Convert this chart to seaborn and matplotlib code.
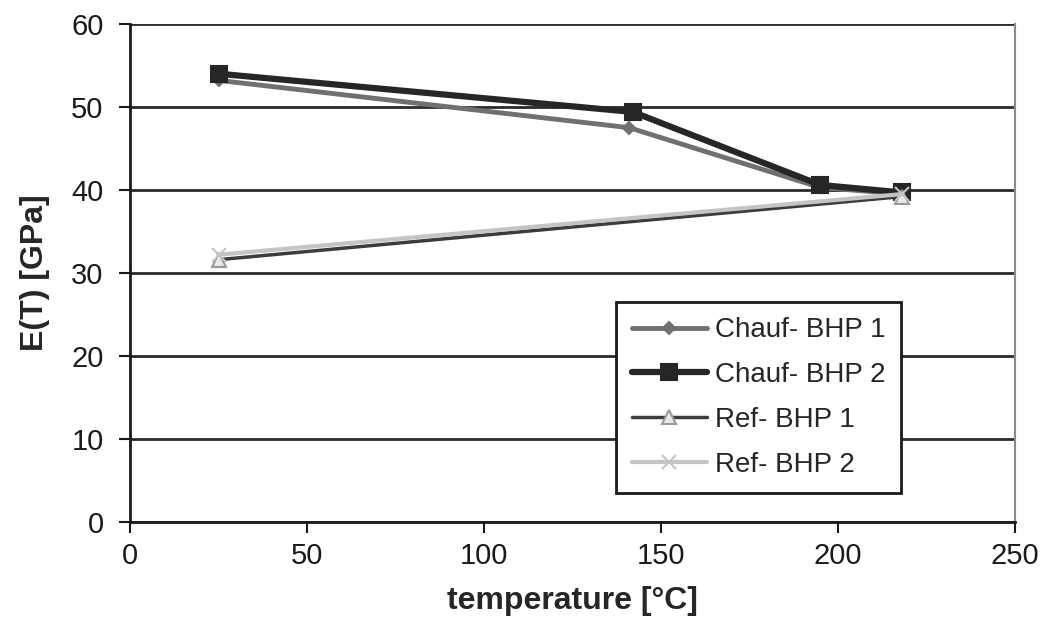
import pandas as pd
import matplotlib.pyplot as plt
import seaborn as sns

# data
chauf1_temp = [25, 141, 195, 218]
chauf1_E = [53.2, 47.5, 40.3, 39.5]
chauf2_temp = [25, 142, 195, 218]
chauf2_E = [54.0, 49.4, 40.6, 39.7]
ref1_temp = [25, 218]
ref1_E = [31.6, 39.2]
ref2_temp = [25, 218]
ref2_E = [32.2, 39.5]

series_names = ['Chauf- BHP 1', 'Chauf- BHP 2', 'Ref- BHP 1', 'Ref- BHP 2']

rows = []
for name, xs, ys in zip(series_names,
                        [chauf1_temp, chauf2_temp, ref1_temp, ref2_temp],
                        [chauf1_E, chauf2_E, ref1_E, ref2_E]):
    for x, y in zip(xs, ys):
        rows.append({'temperature': x, 'E': y, 'series': name})
df = pd.DataFrame(rows)

sns.set_style('white')
plt.rcParams['font.family'] = ['Liberation Sans', 'DejaVu Sans']

fig = plt.figure(figsize=(10.4, 6.29), dpi=100)
ax = fig.add_axes([0.125, 0.170, 0.851, 0.792])

# style per series: line colour, width, marker, marker size, face, edge
styles = {
    'Chauf- BHP 1': dict(color='#707070', lw=3.5, marker='D', ms=6, mfc='#707070', mec='#707070'),
    'Chauf- BHP 2': dict(color='#262626', lw=4.5, marker='s', ms=12, mfc='#262626', mec='#262626'),
    'Ref- BHP 1': dict(color='#3c3c3c', lw=2.5, marker='^', ms=10, mfc='#e8e8e8', mec='#9a9a9a'),
    'Ref- BHP 2': dict(color='#c4c4c4', lw=3.0, marker='x', ms=10, mfc='#c4c4c4', mec='#c4c4c4'),
}

for name in series_names:
    st = styles[name]
    sub = df[df['series'] == name]
    sns.lineplot(data=sub, x='temperature', y='E', ax=ax, label=name,
                 color=st['color'], linewidth=st['lw'], marker=st['marker'],
                 markersize=st['ms'], markerfacecolor=st['mfc'],
                 markeredgecolor=st['mec'], markeredgewidth=1.5,
                 zorder=3, legend=False)

ax.set_xlim(0, 250)
ax.set_ylim(0, 60)
ax.set_xticks(range(0, 251, 50))
ax.set_yticks(range(0, 61, 10))

# horizontal grid lines
ax.yaxis.grid(True, color='#2a2a2a', linewidth=2)
ax.xaxis.grid(False)
ax.set_axisbelow(True)

for side in ['left', 'bottom']:
    ax.spines[side].set_color('#1a1a1a')
    ax.spines[side].set_linewidth(2)
ax.spines['top'].set_visible(False)
ax.spines['right'].set_color('#8a8a8a')
ax.spines['right'].set_linewidth(1.5)

ax.tick_params(axis='both', direction='out', length=8, width=1.5,
               color='#1a1a1a', labelsize=21, labelcolor='#1a1a1a',
               left=True, bottom=True)
ax.tick_params(axis='x', pad=6)
ax.tick_params(axis='y', pad=11)

ax.set_xlabel('temperature [°C]', fontsize=23, fontweight='bold', labelpad=12)
ax.set_ylabel('E(T) [GPa]', fontsize=23, fontweight='bold', labelpad=15)

leg = ax.legend(loc='lower right', bbox_to_anchor=(0.871, 0.058), fontsize=20,
                frameon=True, fancybox=False, edgecolor='#1a1a1a',
                handlelength=2.7, handletextpad=0.3, labelspacing=0.68,
                borderpad=0.55, borderaxespad=0)
leg.get_frame().set_linewidth(2)
leg.get_frame().set_facecolor('white')
leg.get_frame().set_alpha(1)

fig.savefig('out.png', dpi=100)
